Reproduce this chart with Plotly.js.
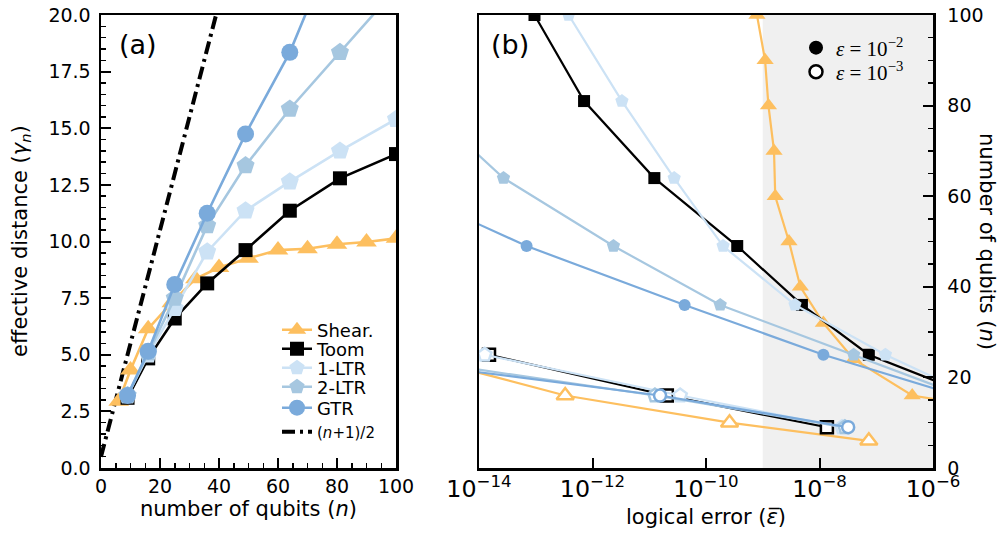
<!DOCTYPE html>
<html>
<head>
<meta charset="utf-8">
<script src="https://cdn.plot.ly/plotly-3.0.1.min.js"></script>
<style>html,body{margin:0;padding:0;background:#fff;}#chart{width:1004px;height:533px;}</style>
</head>
<body>
<div id="chart"></div>
<script>
// ---------- DATA ----------
// Panel (a): effective distance vs number of qubits
const shearN = [6, 10, 16, 24, 32, 40, 50, 60, 70, 80, 90, 100];
const shearGamma = [2.95, 4.33, 6.15, 7.3, 8.35, 8.85, 9.26, 9.62, 9.68, 9.88, 9.98, 10.14];
const toomN = [9, 16, 25, 36, 49, 64, 81, 100];
const toomGamma = [3.1, 4.84, 6.6, 8.15, 9.62, 11.36, 12.79, 13.86];
const ltr1N = [9, 16, 25, 36, 49, 64, 81, 100];
const ltr1Gamma = [3.2, 5.0, 7.05, 9.55, 11.36, 12.64, 14.0, 15.4];
const ltr2N = [9, 16, 25, 36, 49, 64, 81, 100];
const ltr2Gamma = [3.2, 5.1, 7.5, 10.7, 13.35, 15.85, 18.35, 21.15];
const gtrN = [9, 16, 25, 36, 49, 64, 81];
const gtrGamma = [3.2, 5.15, 8.1, 11.25, 14.75, 18.35, 23.7];
const boundN = [0, 39];
const boundGamma = [0.5, 20];

// Panel (b): number of qubits vs logical error
// epsilon = 1e-2 (filled markers)
const shearNHigh = [10, 16, 24, 32, 40, 50, 60, 70, 80, 90, 100];
const shearErrHigh = [5e-4, 4.3e-7, 4.0e-8, 1.17e-8, 4.6e-9, 2.9e-9, 1.66e-9, 1.58e-9, 1.26e-9, 1.1e-9, 7.9e-10];
const toomNHigh = [16, 25, 36, 49, 64, 81, 100];
const toomErrHigh = [5e-6, 7.4e-8, 4.9e-9, 3.55e-10, 1.23e-11, 7.1e-13, 9.5e-14];
const ltr1NHigh = [16, 25, 36, 49, 64, 81, 100];
const ltr1ErrHigh = [5e-6, 1.45e-7, 3.7e-9, 2.0e-10, 2.75e-11, 3.3e-12, 3.8e-13];
const ltr2NHigh = [16, 25, 36, 49, 64, 81];
const ltr2ErrHigh = [3.2e-6, 4.0e-8, 1.78e-10, 2.34e-12, 2.7e-14, 9e-16];
const gtrNHigh = [16, 25, 36, 49, 64];
const gtrErrHigh = [2.7e-6, 1.17e-8, 4.2e-11, 6.9e-14, 1.6e-16];
// epsilon = 1e-3 (open markers)
const shearNLow = [6, 10, 16, 24];
const shearErrLow = [7.4e-8, 2.6e-10, 3.3e-13, 1.26e-15];
const toomNLow = [9, 16, 25];
const toomErrLow = [1.35e-8, 2.04e-11, 1.5e-14];
const ltr1NLow = [9, 16, 25];
const ltr1ErrLow = [2.5e-8, 3.5e-11, 1.26e-14];
const ltr2NLow = [9, 16, 25];
const ltr2ErrLow = [2.8e-8, 1.26e-11, 1.6e-16];
const gtrNLow = [9, 16, 25];
const gtrErrLow = [3.2e-8, 1.55e-11, 4e-17];

const shadeFrom = 1e-9;   // start of grey region in panel (b)
const errRange = [-14, -6];

const seriesNames = ['Shear.', 'Toom', '1-LTR', '2-LTR', 'GTR'];
const boundName = '(<i>n</i>+1)/2';
const epsLabels = ['<i>ε</i> = 10<sup>−2</sup>', '<i>ε</i> = 10<sup>−3</sup>'];

// ---------- STYLE ----------
const W = 1004, H = 533;
const FONT = 'DejaVu Sans, sans-serif';
const SERIF = 'Liberation Serif, DejaVu Serif, serif';
const colors = {shear: '#fdbf5f', toom: '#000000', ltr1: '#cce2f5', ltr2: '#a6c7e0', gtr: '#7aaadb'};
const symA = {shear: 'triangle-up', toom: 'square', ltr1: 'pentagon', ltr2: 'pentagon', gtr: 'circle'};
const sizeA = {shear: 18, toom: 14, ltr1: 19, ltr2: 19, gtr: 17};
const sizeB = {shear: 15, toom: 12, ltr1: 14, ltr2: 14, gtr: 12};
// legend row positions (pixel centres) for panel (a) and panel (b) legends
const legARows = [330, 349, 368, 387, 408, 432];
const legBRows = [48, 72];
const legAIds = ['legend', 'legend3', 'legend4', 'legend5', 'legend6', 'legend7'];
const legBIds = ['legend2', 'legend8'];

const traces = [];
// dash-dot bound (drawn first)
traces.push({x: boundN, y: boundGamma, xaxis: 'x', yaxis: 'y', mode: 'lines', name: boundName,
  line: {color: 'black', width: 4, dash: '13px,5px,3px,5px'}, legend: legAIds[5], hoverinfo: 'skip'});

const aSets = [
  ['shear', shearN, shearGamma, 0],
  ['toom', toomN, toomGamma, 1],
  ['ltr1', ltr1N, ltr1Gamma, 2],
  ['ltr2', ltr2N, ltr2Gamma, 3],
  ['gtr', gtrN, gtrGamma, 4]
];
aSets.forEach(([k, xs, ys, i]) => {
  traces.push({x: xs, y: ys, xaxis: 'x', yaxis: 'y', mode: 'lines+markers', name: seriesNames[i],
    legend: legAIds[i],
    line: {color: colors[k], width: 2.6},
    marker: {symbol: symA[k], size: sizeA[k], color: colors[k], line: {width: 0}}});
});

const bHigh = [
  ['shear', shearNHigh, shearErrHigh],
  ['toom', toomNHigh, toomErrHigh],
  ['ltr1', ltr1NHigh, ltr1ErrHigh],
  ['ltr2', ltr2NHigh, ltr2ErrHigh],
  ['gtr', gtrNHigh, gtrErrHigh]
];
const bLow = [
  ['shear', shearNLow, shearErrLow],
  ['toom', toomNLow, toomErrLow],
  ['ltr1', ltr1NLow, ltr1ErrLow],
  ['ltr2', ltr2NLow, ltr2ErrLow],
  ['gtr', gtrNLow, gtrErrLow]
];
bLow.forEach(([k, ns, errs]) => {
  traces.push({x: errs, y: ns, xaxis: 'x2', yaxis: 'y2', mode: 'lines+markers', showlegend: false,
    line: {color: colors[k], width: 2.2},
    marker: {symbol: symA[k], size: sizeB[k], color: 'white', line: {color: colors[k], width: 2.5}}});
});
bHigh.forEach(([k, ns, errs]) => {
  traces.push({x: errs, y: ns, xaxis: 'x2', yaxis: 'y2', mode: 'lines+markers', showlegend: false,
    line: {color: colors[k], width: 2.2},
    marker: {symbol: symA[k], size: sizeB[k], color: colors[k], line: {width: 0}}});
});
// epsilon legend entries
traces.push({x: [null], y: [null], xaxis: 'x2', yaxis: 'y2', mode: 'markers', name: epsLabels[0], legend: legBIds[0],
  marker: {symbol: 'circle', size: 14, color: 'black', line: {width: 0}}});
traces.push({x: [null], y: [null], xaxis: 'x2', yaxis: 'y2', mode: 'markers', name: epsLabels[1], legend: legBIds[1],
  marker: {symbol: 'circle', size: 13, color: 'white', line: {color: 'black', width: 2.5}}});

const ax = (extra) => Object.assign({
  ticks: 'inside', ticklen: 10, tickwidth: 2, tickcolor: 'black',
  showline: true, linewidth: 2.5, linecolor: 'black', mirror: true,
  showgrid: false, zeroline: false,
  tickfont: {family: FONT, size: 19, color: 'black'}
}, extra);
const minorAx = (dt) => ({dtick: dt, ticks: 'inside', ticklen: 5, tickwidth: 1.5, tickcolor: 'black', showgrid: false});

const yDom = [(H - 468) / H, (H - 15) / H];
const shadeFrac = (Math.log10(shadeFrom) - errRange[0]) / (errRange[1] - errRange[0]);

const layout = {
  width: W, height: H,
  margin: {l: 0, r: 0, t: 0, b: 0},
  paper_bgcolor: 'white', plot_bgcolor: 'white',
  font: {family: FONT, color: 'black'},
  xaxis: ax({domain: [101 / W, 396 / W], range: [0, 100], anchor: 'y', tick0: 0, dtick: 20, minor: minorAx(5), ticklabelstandoff: 0}),
  yaxis: ax({domain: yDom, range: [0, 20], anchor: 'x', tick0: 0, dtick: 2.5, tickformat: '.1f', minor: minorAx(0.5), ticklabelstandoff: 4}),
  xaxis2: ax({domain: [479 / W, 933 / W], type: 'log', range: errRange, anchor: 'y2', dtick: 2, exponentformat: 'power', ticklabelstandoff: -1}),
  yaxis2: ax({domain: yDom, range: [0, 100], anchor: 'x2', side: 'right', tick0: 0, dtick: 20, minor: minorAx(5), ticklabelstandoff: 8}),
  shapes: [{type: 'rect', xref: 'x2 domain', yref: 'y2 domain', x0: shadeFrac, x1: 1, y0: 0, y1: 1,
    fillcolor: '#f0f0f0', line: {width: 0}, layer: 'below'}],
  annotations: [
    {text: '(a)', xref: 'paper', yref: 'paper', x: 138 / W, y: 1 - 45 / H, showarrow: false, xanchor: 'center', yanchor: 'middle', font: {family: FONT, size: 27}},
    {text: '(b)', xref: 'paper', yref: 'paper', x: 510 / W, y: 1 - 45 / H, showarrow: false, xanchor: 'center', yanchor: 'middle', font: {family: FONT, size: 27}},
    {text: 'effective distance (<i>γ<sub>n</sub></i>)', xref: 'paper', yref: 'paper', x: 21 / W, y: 1 - 241 / H, textangle: -90, showarrow: false, xanchor: 'center', yanchor: 'middle', font: {family: FONT, size: 21}},
    {text: 'number of qubits (<i>n</i>)', xref: 'paper', yref: 'paper', x: 248 / W, y: 1 - 509 / H, showarrow: false, xanchor: 'center', yanchor: 'middle', font: {family: FONT, size: 21}},
    {text: 'logical error (<i>ε̅</i>)', xref: 'paper', yref: 'paper', x: 706 / W, y: 1 - 517 / H, showarrow: false, xanchor: 'center', yanchor: 'middle', font: {family: FONT, size: 21}},
    {text: 'number of qubits (<i>n</i>)', xref: 'paper', yref: 'paper', x: 987 / W, y: 1 - 241 / H, textangle: 90, showarrow: false, xanchor: 'center', yanchor: 'middle', font: {family: FONT, size: 21}}
  ]
};
legAIds.forEach((id, i) => {
  layout[id] = {x: 277 / W, y: 1 - legARows[i] / H, xanchor: 'left', yanchor: 'middle', bgcolor: 'rgba(0,0,0,0)',
    font: {family: FONT, size: i === 5 ? 15 : 18, color: 'black'}, tracegroupgap: 0, itemwidth: 30};
});
legBIds.forEach((id, i) => {
  layout[id] = {x: 796 / W, y: 1 - legBRows[i] / H, xanchor: 'left', yanchor: 'middle', bgcolor: 'rgba(0,0,0,0)',
    font: {family: SERIF, size: 21, color: 'black'}, tracegroupgap: 0};
});

Plotly.newPlot('chart', traces, layout, {staticPlot: true, displayModeBar: false});
</script>
</body>
</html>
